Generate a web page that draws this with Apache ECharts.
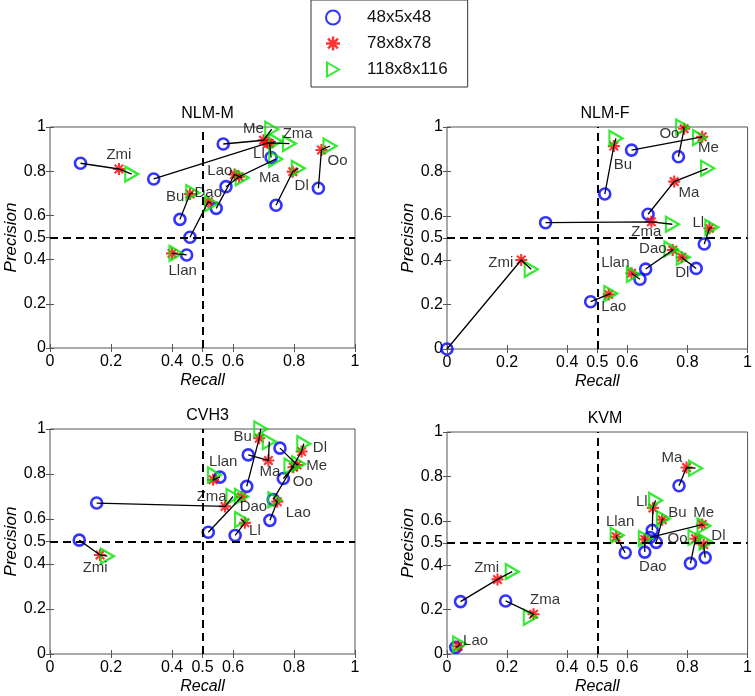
<!DOCTYPE html>
<html>
<head>
<meta charset="utf-8">
<script src="https://cdn.jsdelivr.net/npm/echarts@6/dist/echarts.min.js"></script>
<style>
html, body { margin: 0; padding: 0; background: #fff; }
#main { width: 755px; height: 696px; }
</style>
</head>
<body>
<div id="main"></div>
<script>
// labels shared by every panel
const names = ['Zmi', 'Zma', 'Me', 'Ll', 'Ma', 'Lao', 'Dao', 'Bu', 'Llan', 'Dl', 'Oo'];
const seriesNames = ['48x5x48', '78x8x78', '118x8x116'];
const tickValues = [0, 0.2, 0.4, 0.5, 0.6, 0.8, 1];

// NLM-M  [recall, precision]
const nlmmBlue  = [[0.10,0.836],[0.34,0.765],[0.568,0.923],[0.725,0.862],[0.577,0.73],[0.545,0.632],[0.459,0.501],[0.426,0.582],[0.448,0.421],[0.741,0.646],[0.88,0.723]];
const nlmmRed   = [[0.226,0.81],[0.715,0.928],[0.70,0.94],[0.72,0.925],[0.62,0.775],[0.605,0.785],[0.519,0.662],[0.459,0.697],[0.40,0.428],[0.796,0.798],[0.89,0.896]];
const nlmmGreen = [[0.268,0.787],[0.785,0.925],[0.727,0.99],[0.74,0.935],[0.74,0.855],[0.63,0.77],[0.53,0.654],[0.468,0.703],[0.413,0.428],[0.814,0.813],[0.918,0.914]];
const nlmmLabelAt = [[0.226,0.873],[0.812,0.971],[0.667,0.99],[0.685,0.879],[0.719,0.772],[0.557,0.80],[0.519,0.70],[0.41,0.682],[0.435,0.35],[0.825,0.733],[0.943,0.848]];

// NLM-F
const nlmfBlue  = [[0,0],[0.328,0.569],[0.614,0.896],[0.856,0.473],[0.669,0.607],[0.478,0.213],[0.661,0.36],[0.525,0.698],[0.642,0.314],[0.829,0.363],[0.77,0.866]];
const nlmfRed   = [[0.247,0.401],[0.68,0.573],[0.849,0.956],[0.873,0.544],[0.756,0.754],[0.538,0.246],[0.751,0.446],[0.555,0.914],[0.614,0.341],[0.781,0.413],[0.789,0.992]];
const nlmfGreen = [[0.28,0.359],[0.75,0.562],[0.84,0.952],[0.881,0.548],[0.867,0.814],[0.545,0.25],[0.745,0.45],[0.562,0.949],[0.62,0.336],[0.786,0.413],[0.784,1.0]];
const nlmfLabelAt = [[0.179,0.386],[0.663,0.528],[0.87,0.904],[0.836,0.569],[0.805,0.704],[0.555,0.188],[0.685,0.449],[0.585,0.829],[0.56,0.386],[0.783,0.341],[0.74,0.968]];

// CVH3
const cvh3Blue  = [[0.096,0.506],[0.153,0.671],[0.754,0.915],[0.607,0.527],[0.65,0.885],[0.721,0.594],[0.519,0.541],[0.645,0.745],[0.557,0.786],[0.732,0.686],[0.765,0.78]];
const cvh3Red   = [[0.164,0.44],[0.574,0.656],[0.81,0.84],[0.639,0.583],[0.716,0.86],[0.745,0.677],[0.628,0.698],[0.686,0.959],[0.535,0.774],[0.825,0.90],[0.798,0.83]];
const cvh3Green = [[0.188,0.435],[0.60,0.70],[0.815,0.845],[0.628,0.597],[0.719,0.944],[0.737,0.685],[0.628,0.70],[0.691,1.0],[0.539,0.796],[0.832,0.935],[0.79,0.835]];
const cvh3LabelAt = [[0.148,0.384],[0.53,0.70],[0.874,0.836],[0.672,0.546],[0.721,0.811],[0.814,0.627],[0.667,0.654],[0.632,0.966],[0.568,0.855],[0.885,0.915],[0.829,0.767]];

// KVM
const kvmBlue  = [[0.045,0.236],[0.195,0.239],[0.675,0.525],[0.683,0.557],[0.772,0.758],[0.029,0.03],[0.658,0.459],[0.696,0.503],[0.593,0.456],[0.859,0.434],[0.81,0.408]];
const kvmRed   = [[0.168,0.336],[0.288,0.179],[0.849,0.583],[0.685,0.658],[0.797,0.84],[0.037,0.035],[0.658,0.516],[0.716,0.605],[0.563,0.528],[0.854,0.493],[0.827,0.519]];
const kvmGreen = [[0.217,0.371],[0.277,0.165],[0.855,0.578],[0.694,0.692],[0.827,0.837],[0.042,0.045],[0.66,0.52],[0.72,0.61],[0.566,0.535],[0.862,0.504],[0.825,0.525]];
const kvmLabelAt = [[0.132,0.389],[0.326,0.243],[0.854,0.638],[0.648,0.687],[0.748,0.882],[0.095,0.06],[0.685,0.391],[0.767,0.635],[0.576,0.593],[0.903,0.53],[0.767,0.519]];

const panels = [
  { title: 'NLM-M', blue: nlmmBlue, red: nlmmRed, green: nlmmGreen, labelAt: nlmmLabelAt, grid: { left: 50, top: 127, width: 305, height: 221 } },
  { title: 'NLM-F', blue: nlmfBlue, red: nlmfRed, green: nlmfGreen, labelAt: nlmfLabelAt, grid: { left: 447, top: 127, width: 306, height: 222 } },
  { title: 'CVH3',  blue: cvh3Blue, red: cvh3Red, green: cvh3Green, labelAt: cvh3LabelAt, grid: { left: 50, top: 429, width: 305, height: 226 } },
  { title: 'KVM',   blue: kvmBlue,  red: kvmRed,  green: kvmGreen,  labelAt: kvmLabelAt,  grid: { left: 447, top: 432, width: 306, height: 223 } }
];

const FONT = '"Liberation Sans", Arial, Helvetica, sans-serif';

// asterisk: four thin bars through the centre
function asteriskPath() {
  const L = 10, w = 1.8;
  let d = '';
  [0, 45, 90, 135].forEach(a => {
    const r = a * Math.PI / 180, c = Math.cos(r), s = Math.sin(r);
    const pts = [[1, 1], [-1, 1], [-1, -1], [1, -1]].map(([sl, sw]) =>
      [(10 + sl * L * c - sw * w * s).toFixed(2), (10 + sl * L * s + sw * w * c).toFixed(2)]);
    d += 'M' + pts[0].join(' ') + 'L' + pts[1].join(' ') + 'L' + pts[2].join(' ') + 'L' + pts[3].join(' ') + 'Z';
  });
  return 'path://' + d;
}
const STAR = asteriskPath();
const TRI = 'path://M0 0L12 7L0 14Z';

const grids = [], xAxes = [], yAxes = [], series = [], titles = [];

panels.forEach((p, i) => {
  grids.push(Object.assign({ show: true, borderColor: '#555', borderWidth: 1, backgroundColor: 'transparent' }, p.grid));
  titles.push({
    text: p.title, left: p.grid.left + p.grid.width / 2, top: p.grid.top - 26, textAlign: 'center',
    textStyle: { fontFamily: FONT, fontSize: 16, fontWeight: 'normal', color: '#000' }
  });
  const tickStyle = { show: true, inside: true, length: 4, customValues: tickValues, lineStyle: { color: '#555' } };
  xAxes.push({
    gridIndex: i, type: 'value', min: 0, max: 1, position: 'bottom',
    name: 'Recall', nameLocation: 'middle', nameGap: 25,
    nameTextStyle: { fontFamily: FONT, fontSize: 16, fontStyle: 'italic', color: '#000' },
    axisLine: { show: false }, splitLine: { show: false }, axisTick: tickStyle,
    axisLabel: { customValues: tickValues, margin: 6, fontFamily: FONT, fontSize: 16, color: '#000' }
  });
  xAxes.push({
    gridIndex: i, type: 'value', min: 0, max: 1, position: 'top',
    axisLine: { show: false }, splitLine: { show: false }, axisTick: tickStyle, axisLabel: { show: false }
  });
  yAxes.push({
    gridIndex: i, type: 'value', min: 0, max: 1, position: 'left',
    name: 'Precision', nameLocation: 'middle', nameRotate: 90, nameGap: 29,
    nameTextStyle: { fontFamily: FONT, fontSize: 17, fontStyle: 'italic', color: '#000' },
    axisLine: { show: false }, splitLine: { show: false }, axisTick: tickStyle,
    axisLabel: { customValues: tickValues, margin: 4, fontFamily: FONT, fontSize: 16, color: '#000' }
  });
  yAxes.push({
    gridIndex: i, type: 'value', min: 0, max: 1, position: 'right',
    axisLine: { show: false }, splitLine: { show: false }, axisTick: tickStyle, axisLabel: { show: false }
  });
  const xi = i * 2, yi = i * 2;

  // dashed 0.5 guides
  series.push({
    type: 'scatter', xAxisIndex: xi, yAxisIndex: yi, data: [], silent: true,
    markLine: {
      silent: true, symbol: ['none', 'none'], label: { show: false },
      lineStyle: { type: [8, 5], color: '#000', width: 2 },
      data: [{ xAxis: 0.5 }, { yAxis: 0.5 }]
    }
  });
  // connecting lines blue -> red -> green
  series.push({
    type: 'lines', coordinateSystem: 'cartesian2d', xAxisIndex: xi, yAxisIndex: yi,
    polyline: true, silent: true, z: 4,
    lineStyle: { color: '#000', width: 1.3, opacity: 1 },
    data: names.map((n, k) => ({ coords: [p.blue[k], p.red[k], p.green[k]] }))
  });
  series.push({
    name: seriesNames[0], type: 'scatter', xAxisIndex: xi, yAxisIndex: yi, silent: true, z: 3,
    symbol: 'circle', symbolSize: 11,
    itemStyle: { color: 'rgba(0,0,0,0)', borderColor: '#0000ff', borderWidth: 2.6 },
    data: p.blue
  });
  series.push({
    name: seriesNames[1], type: 'scatter', xAxisIndex: xi, yAxisIndex: yi, silent: true, z: 3,
    symbol: STAR, symbolSize: 12,
    itemStyle: { color: '#ff0000' },
    data: p.red
  });
  series.push({
    name: seriesNames[2], type: 'scatter', xAxisIndex: xi, yAxisIndex: yi, silent: true, z: 3,
    symbol: TRI, symbolSize: [13, 15],
    itemStyle: { color: 'rgba(0,0,0,0)', borderColor: '#00e600', borderWidth: 2.2 },
    data: p.green
  });
  series.push({
    name: 'labels', type: 'scatter', xAxisIndex: xi, yAxisIndex: yi, silent: true, z: 5,
    symbolSize: 0,
    label: { show: true, position: 'inside', formatter: '{b}', fontFamily: FONT, fontSize: 15, color: '#000' },
    data: p.labelAt.map((v, k) => ({ name: names[k], value: v }))
  });
});

const chart = echarts.init(document.getElementById('main'), null, { renderer: 'canvas' });
chart.setOption({
  animation: false,
  backgroundColor: '#fff',
  title: titles,
  legend: {
    orient: 'vertical', left: 311, top: 0,
    itemWidth: 14, itemHeight: 14, itemGap: 9,
    padding: [9, 20, 9, 14],
    borderColor: '#333', borderWidth: 1,
    selectedMode: false,
    textStyle: { fontFamily: FONT, fontSize: 17, color: '#111', padding: [0, 0, 0, 22] },
    data: [
      { name: seriesNames[0], icon: 'circle' },
      { name: seriesNames[1], icon: STAR },
      { name: seriesNames[2], icon: TRI }
    ]
  },
  grid: grids,
  xAxis: xAxes,
  yAxis: yAxes,
  series: series
});
</script>
</body>
</html>
